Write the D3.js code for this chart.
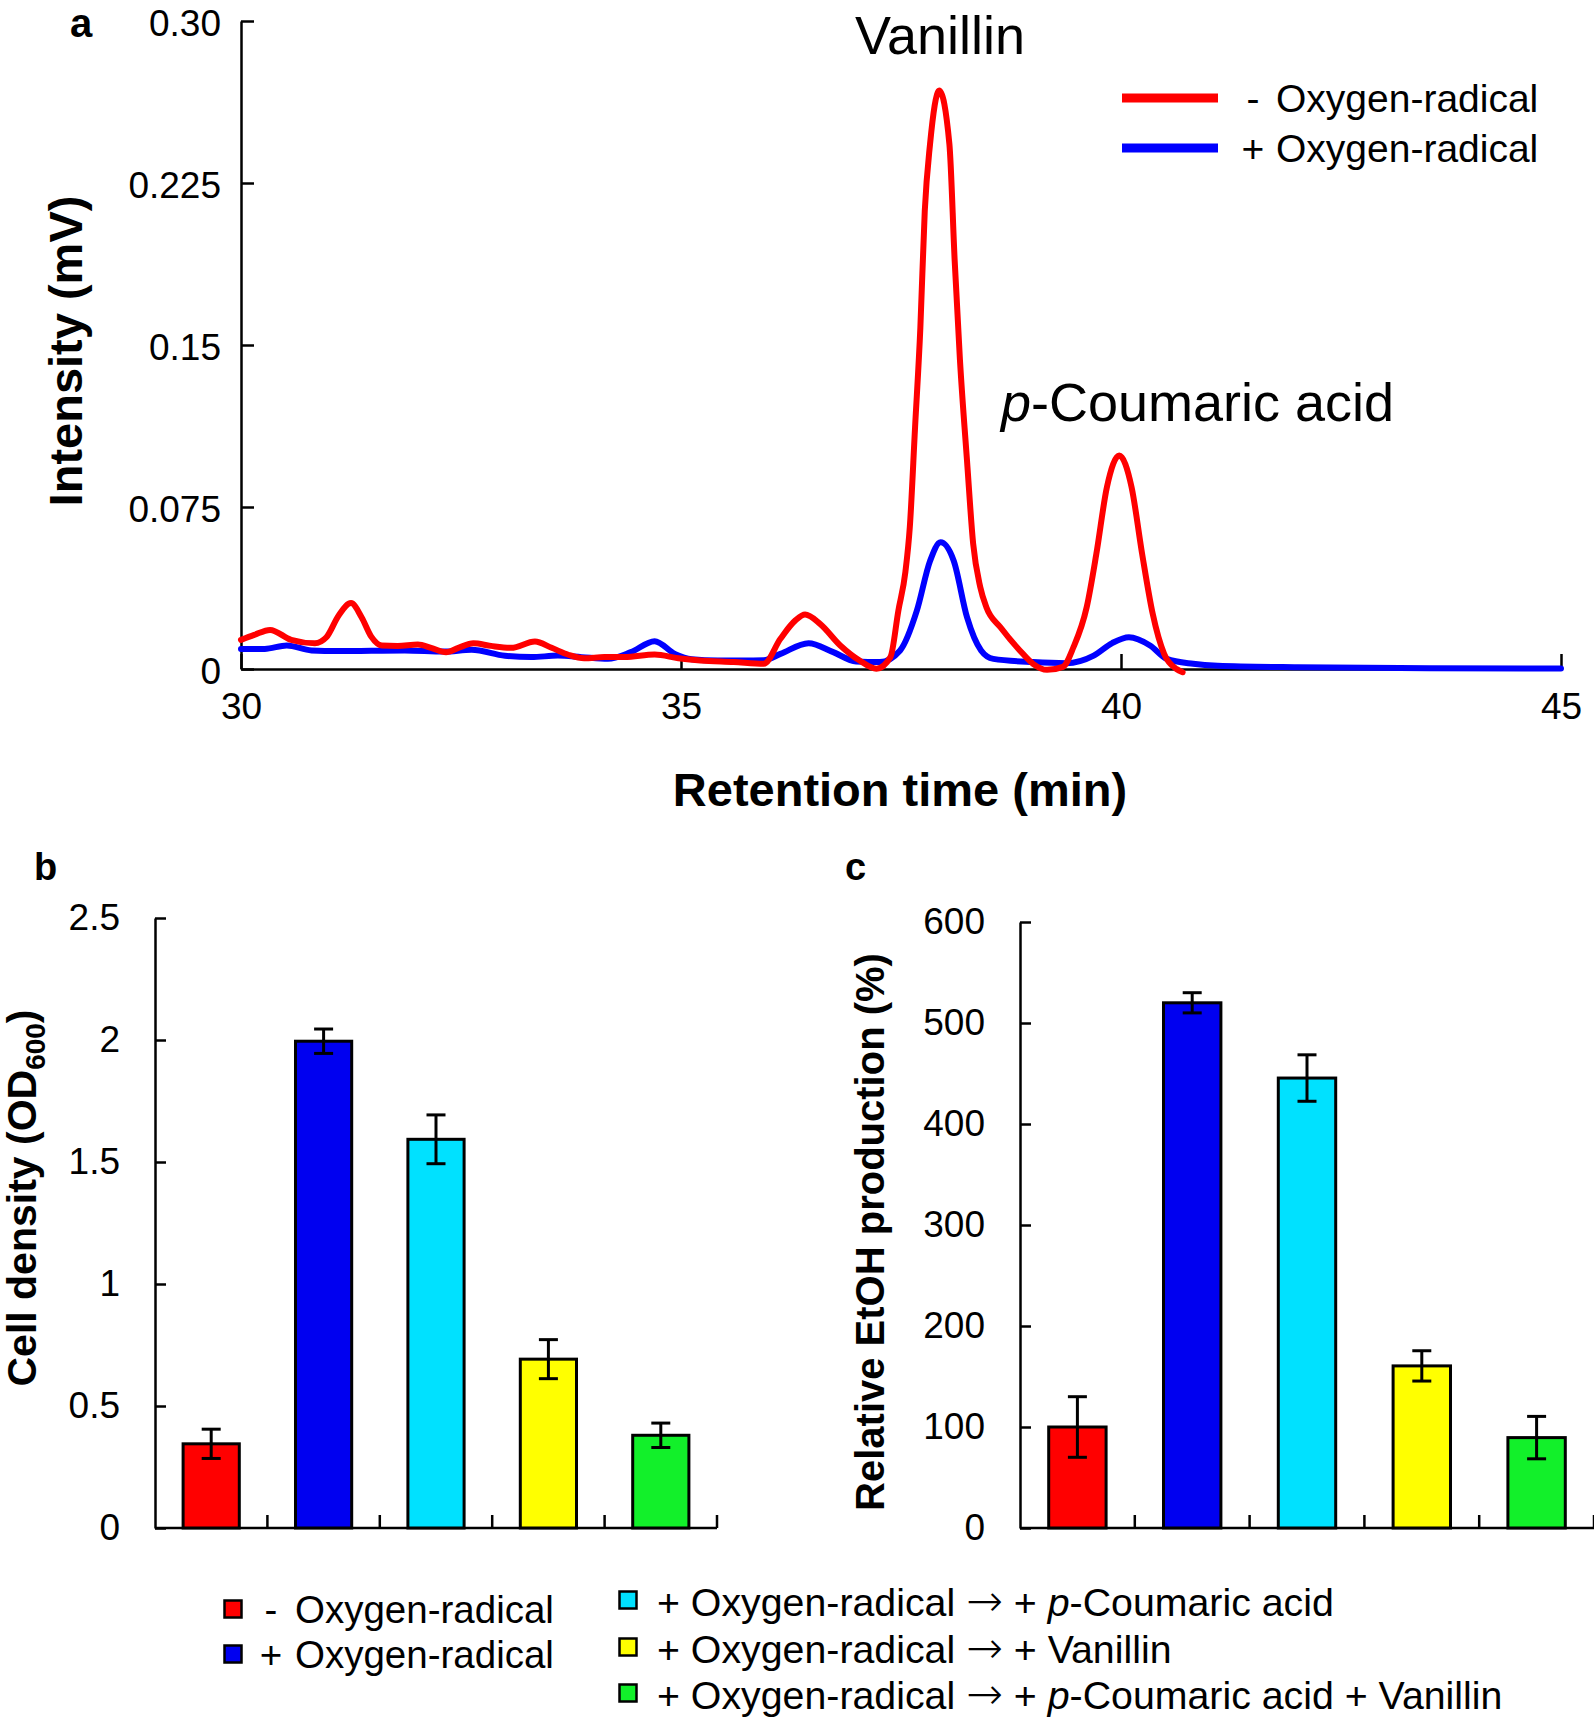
<!DOCTYPE html>
<html>
<head>
<meta charset="utf-8">
<script src="https://cdn.jsdelivr.net/npm/d3@7"></script>
<style>
  html, body { margin: 0; padding: 0; background: #fff; }
  svg { display: block; }
  text { font-family: Arial, "Liberation Sans", Helvetica, sans-serif; fill: #000; }
</style>
</head>
<body>
<svg id="chart" width="1594" height="1720"></svg>
<script>
// ---------------- Data ----------------
// Panel a: chromatogram traces [retention time (min), intensity (mV)]
const redTrace = [
  [30.00,0.0135],[30.15,0.0158],[30.33,0.0181],[30.57,0.0135],[30.84,0.0119],[30.97,0.0147],
  [31.11,0.0248],[31.25,0.0305],[31.37,0.0240],[31.48,0.0150],[31.60,0.0109],[31.78,0.0107],
  [32.01,0.0113],[32.16,0.0098],[32.33,0.0078],[32.47,0.0098],[32.64,0.0119],[32.84,0.0107],
  [33.07,0.0098],[33.34,0.0127],[33.53,0.0098],[33.72,0.0066],[33.90,0.0050],[34.13,0.0055],
  [34.36,0.0055],[34.70,0.0067],[34.97,0.0050],[35.22,0.0039],[35.60,0.0032],[35.94,0.0024],
  [36.13,0.0140],[36.30,0.0225],[36.41,0.0252],[36.58,0.0209],[36.81,0.0109],[37.03,0.0039],
  [37.22,0.0001],[37.38,0.0055],[37.47,0.0270],[37.55,0.0450],[37.60,0.0656],[37.66,0.1120],
  [37.72,0.1580],[37.77,0.2120],[37.83,0.2430],[37.935,0.2678],[38.05,0.2430],[38.11,0.1890],
  [38.17,0.1430],[38.25,0.0965],[38.32,0.0580],[38.40,0.0380],[38.47,0.0286],[38.63,0.0193],
  [38.85,0.0086],[39.00,0.0024],[39.16,-0.0004],[39.34,0.0010],[39.46,0.0101],[39.61,0.0286],
  [39.72,0.0533],[39.84,0.0842],[39.98,0.0988],[40.12,0.0842],[40.24,0.0533],[40.36,0.0256],
  [40.49,0.0070],[40.63,0.0000],[40.70,-0.0015]
];
const blueTrace = [
  [30.00,0.0093],[30.27,0.0093],[30.52,0.0109],[30.80,0.0086],[31.10,0.0083],[31.86,0.0086],
  [32.31,0.0081],[32.62,0.0089],[33.00,0.0061],[33.30,0.0055],[33.60,0.0062],[33.87,0.0055],
  [34.17,0.0047],[34.43,0.0078],[34.70,0.0129],[34.93,0.0070],[35.12,0.0045],[35.42,0.0039],
  [35.94,0.0040],[36.13,0.0070],[36.45,0.0119],[36.73,0.0078],[36.99,0.0035],[37.26,0.0032],
  [37.49,0.0086],[37.68,0.0270],[37.83,0.0500],[37.95,0.0587],[38.10,0.0500],[38.25,0.0240],
  [38.41,0.0086],[38.55,0.0047],[39.00,0.0032],[39.38,0.0027],[39.69,0.0062],[39.90,0.0120],
  [40.09,0.0147],[40.33,0.0109],[40.52,0.0047],[40.82,0.0024],[41.10,0.0015],[42.00,0.0008],
  [43.50,0.0004],[45.00,0.0002]
];
const chromYTicks = [0, 0.075, 0.15, 0.225, 0.30];
const chromYTickLabels = ["0", "0.075", "0.15", "0.225", "0.30"];
const timeTicks = [30, 35, 40, 45];
const chromSeries = ["- Oxygen-radical", "+ Oxygen-radical"];

// Panels b and c
const categories = ["-O", "+O", "+O pCA", "+O V", "+O pCA V"];
const barColors = ["#ff0000", "#0000f0", "#00e1ff", "#ffff00", "#12f02a"];
const cellDensity = [0.345, 1.995, 1.593, 0.692, 0.380];
const cellDensityErr = [0.060, 0.050, 0.100, 0.080, 0.050];
const odTicks = [0, 0.5, 1, 1.5, 2, 2.5];
const ethanol = [100, 520, 445.5, 160.5, 89.5];
const ethanolErr = [30, 10, 23, 15, 21];
const etohTicks = [0, 100, 200, 300, 400, 500, 600];

// ---------------- Drawing ----------------
const svg = d3.select("#chart");
const FONT = 'Arial, "Liberation Sans", Helvetica, sans-serif';

function styleAxis(g, fontSize) {
  g.selectAll("path.domain").attr("stroke", "#000").attr("stroke-width", 2.5);
  g.selectAll(".tick line").attr("stroke", "#000").attr("stroke-width", 2.5);
  g.selectAll(".tick text").attr("font-size", fontSize).attr("font-family", FONT).attr("fill", "#000");
}

// ===== Panel a =====
const xA = d3.scaleLinear().domain([30, 45]).range([241, 1561]);
const yA = d3.scaleLinear().domain([0, 0.30]).range([669, 21]);

const gAy = svg.append("g").attr("transform", `translate(${xA(30)},0)`)
  .call(d3.axisLeft(yA).tickValues(chromYTicks)
    .tickFormat((d, i) => chromYTickLabels[i]).tickSize(-13).tickSizeOuter(0).tickPadding(20));
styleAxis(gAy, 37);
gAy.selectAll(".tick text").attr("dy", "0.38em");

const gAx = svg.append("g").attr("transform", `translate(0,${yA(0)})`)
  .call(d3.axisBottom(xA).tickValues(timeTicks).tickFormat(d3.format("d"))
    .tickSize(-15).tickSizeOuter(0).tickPadding(24));
styleAxis(gAx, 37);

const line = d3.line().x(d => xA(d[0])).y(d => yA(d[1])).curve(d3.curveMonotoneX);
svg.append("path").datum(blueTrace).attr("d", line)
  .attr("fill", "none").attr("stroke", "#0000ff").attr("stroke-width", 6)
  .attr("stroke-linejoin", "round").attr("stroke-linecap", "round");
svg.append("path").datum(redTrace).attr("d", line)
  .attr("fill", "none").attr("stroke", "#ff0000").attr("stroke-width", 6)
  .attr("stroke-linejoin", "round").attr("stroke-linecap", "round");

// axis titles
svg.append("text").attr("x", 900).attr("y", 806).attr("text-anchor", "middle")
  .attr("font-size", 47).attr("font-weight", "bold").text("Retention time (min)");
svg.append("text").attr("transform", "translate(82,351) rotate(-90)").attr("text-anchor", "middle")
  .attr("font-size", 47).attr("font-weight", "bold").text("Intensity (mV)");
svg.append("text").attr("x", 70).attr("y", 37).attr("font-size", 40).attr("font-weight", "bold").text("a");

// peak labels
svg.append("text").attr("x", 855).attr("y", 54).attr("font-size", 54).text("Vanillin");
const pca = svg.append("text").attr("x", 1001).attr("y", 421).attr("font-size", 54);
pca.append("tspan").attr("font-style", "italic").text("p");
pca.append("tspan").text("-Coumaric acid");

// legend a
const legA = [["#ff0000", "-", 98], ["#0000ff", "+", 148]];
legA.forEach(([c, sign, yy], i) => {
  svg.append("line").attr("x1", 1122).attr("x2", 1218).attr("y1", yy).attr("y2", yy)
    .attr("stroke", c).attr("stroke-width", 9);
  svg.append("text").attr("x", 1253).attr("y", yy + 14).attr("text-anchor", "middle")
    .attr("font-size", 39).text(sign);
  svg.append("text").attr("x", 1276).attr("y", yy + 14).attr("font-size", 39)
    .text(chromSeries[i].slice(2));
});

// ===== Bar panel helper =====
function barPanel(opts) {
  const x = d3.scaleBand().domain(categories).range(opts.xRange).paddingInner(0.5).paddingOuter(0.25);
  const y = d3.scaleLinear().domain(opts.yDomain).range(opts.yRange);
  const gy = svg.append("g").attr("transform", `translate(${opts.xRange[0]},0)`)
    .call(d3.axisLeft(y).tickValues(opts.ticks).tickFormat(d3.format("~g"))
      .tickSize(-11).tickSizeOuter(0).tickPadding(35));
  styleAxis(gy, 37);
  svg.append("line").attr("x1", opts.xRange[0]).attr("x2", opts.xRange[1])
    .attr("y1", y(0)).attr("y2", y(0)).attr("stroke", "#000").attr("stroke-width", 2.5);
  const step = x.step(), bw = x.bandwidth();
  categories.forEach(c => {
    const bx = x(c) + bw + (step - bw) / 2;
    svg.append("line").attr("x1", bx).attr("x2", bx).attr("y1", y(0)).attr("y2", y(0) - 13)
      .attr("stroke", "#000").attr("stroke-width", 2.5);
  });
  svg.append("g").selectAll("rect").data(opts.values).join("rect")
    .attr("x", (d, i) => x(categories[i])).attr("width", bw)
    .attr("y", d => y(d)).attr("height", d => y(0) - y(d))
    .attr("fill", (d, i) => barColors[i]).attr("stroke", "#000").attr("stroke-width", 3);
  const eg = svg.append("g").attr("stroke", "#000").attr("stroke-width", 3);
  opts.values.forEach((v, i) => {
    const cx = x(categories[i]) + bw / 2, e = opts.errors[i];
    eg.append("line").attr("x1", cx).attr("x2", cx).attr("y1", y(v + e)).attr("y2", y(v - e));
    eg.append("line").attr("x1", cx - 9.5).attr("x2", cx + 9.5).attr("y1", y(v + e)).attr("y2", y(v + e));
    eg.append("line").attr("x1", cx - 9.5).attr("x2", cx + 9.5).attr("y1", y(v - e)).attr("y2", y(v - e));
  });
}

barPanel({ xRange: [155, 717], yDomain: [0, 2.5], yRange: [1528, 918], ticks: odTicks,
  values: cellDensity, errors: cellDensityErr });
barPanel({ xRange: [1020, 1594], yDomain: [0, 600], yRange: [1528, 922], ticks: etohTicks,
  values: ethanol, errors: ethanolErr });

svg.append("text").attr("x", 34).attr("y", 880).attr("font-size", 38).attr("font-weight", "bold").text("b");
svg.append("text").attr("x", 845).attr("y", 880).attr("font-size", 38).attr("font-weight", "bold").text("c");

const tb = svg.append("text").attr("transform", "translate(36,1198) rotate(-90)")
  .attr("text-anchor", "middle").attr("font-size", 41).attr("font-weight", "bold");
tb.append("tspan").text("Cell density (OD");
tb.append("tspan").attr("font-size", 28).attr("dy", 9).text("600");
tb.append("tspan").attr("dy", -9).text(")");

svg.append("text").attr("transform", "translate(884,1232) rotate(-90)")
  .attr("text-anchor", "middle").attr("font-size", 40).attr("font-weight", "bold")
  .text("Relative EtOH production (%)");

// ===== Bottom legend =====
const legendLeft = [
  { i: 0, sign: "-", x: 233, y: 1609 },
  { i: 1, sign: "+", x: 233, y: 1654 }
];
legendLeft.forEach(d => {
  svg.append("rect").attr("x", d.x - 8.5).attr("y", d.y - 8.5).attr("width", 17).attr("height", 17)
    .attr("fill", barColors[d.i]).attr("stroke", "#000").attr("stroke-width", 2.5);
  svg.append("text").attr("x", 271).attr("y", d.y + 14).attr("text-anchor", "middle")
    .attr("font-size", 38.5).text(d.sign);
  svg.append("text").attr("x", 295).attr("y", d.y + 14).attr("font-size", 38.5).text("Oxygen-radical");
});

// parts: [text, italic, arrowFont]
const legendRight = [
  { i: 2, y: 1600, parts: [["+ Oxygen-radical ", 0, 0], ["\u2192", 0, 1], [" + ", 0, 0], ["p", 1, 0], ["-Coumaric acid", 0, 0]] },
  { i: 3, y: 1647, parts: [["+ Oxygen-radical ", 0, 0], ["\u2192", 0, 1], [" + Vanillin", 0, 0]] },
  { i: 4, y: 1693, parts: [["+ Oxygen-radical ", 0, 0], ["\u2192", 0, 1], [" + ", 0, 0], ["p", 1, 0], ["-Coumaric acid + Vanillin", 0, 0]] }
];
legendRight.forEach(d => {
  svg.append("rect").attr("x", 628 - 8.5).attr("y", d.y - 8.5).attr("width", 17).attr("height", 17)
    .attr("fill", barColors[d.i]).attr("stroke", "#000").attr("stroke-width", 2.5);
  const t = svg.append("text").attr("x", 657).attr("y", d.y + 16).attr("font-size", 39.3)
    .attr("xml:space", "preserve").style("white-space", "pre");
  d.parts.forEach(([s, it, arrow]) => {
    const ts = t.append("tspan").text(s);
    if (it) ts.attr("font-style", "italic");
    if (arrow) ts.attr("font-family", '"DejaVu Sans", sans-serif').attr("font-weight", "200")
      .attr("font-size", 44);
  });
});
</script>
</body>
</html>
